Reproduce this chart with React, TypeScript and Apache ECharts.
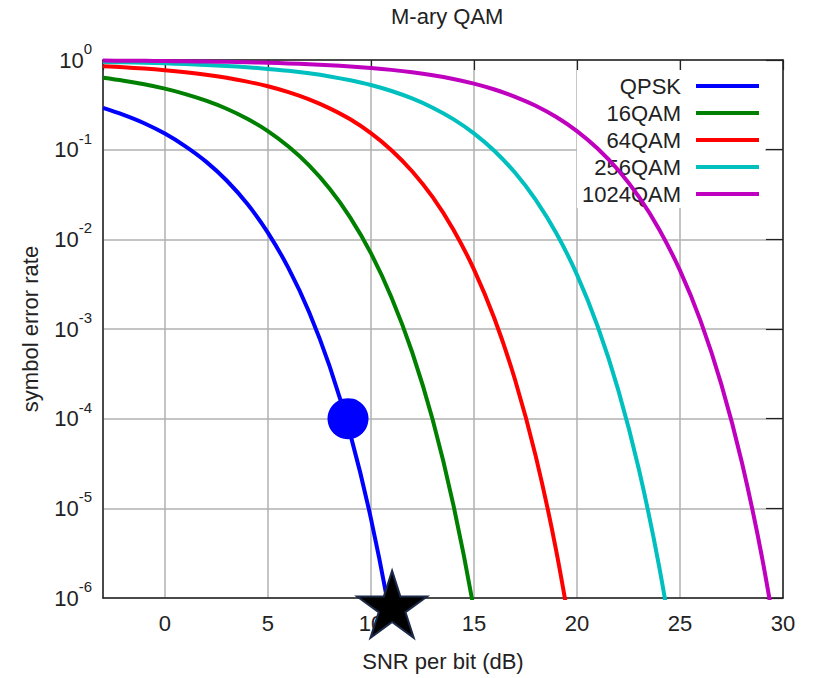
import { useEffect, useRef } from 'react';
import * as echarts from 'echarts';

const snrDb = [-3, -2, -1, 0, 1, 2, 3, 4, 5, 6, 7, 8, 9, 10, 11, 12, 13, 14, 15, 16, 17, 18, 19, 20, 21, 22, 23, 24, 25, 26, 27, 28, 29, 30];
const seriesNames = ['QPSK', '16QAM', '64QAM', '256QAM', '1024QAM'];
const seriesColors = ['#0000ff', '#008000', '#ff0000', '#00bfbf', '#bf00bf'];

const qpsk = [0.292, 0.244, 0.197, 0.151, 0.109, 0.0736, 0.0453, 0.0249, 0.0119, 0.00477, 0.00155, 3.82e-4, 6.72e-5, 7.74e-6, 5.2e-7, 1.8e-8];
const qam16 = [0.634, 0.588, 0.536, 0.479, 0.417, 0.352, 0.286, 0.221, 0.161, 0.1083, 0.0668, 0.0366, 0.01748, 0.00701, 0.00225, 5.54e-4, 9.7e-5, 1.1e-5, 7.4e-7, 2.5e-8];
const qam64 = [0.853, 0.829, 0.802, 0.769, 0.73, 0.685, 0.633, 0.574, 0.509, 0.438, 0.364, 0.289, 0.218, 0.153, 0.0987, 0.0575, 0.0295, 0.0129, 0.00463, 0.0013, 2.7e-4, 3.82e-5, 3.32e-6, 1.58e-7];
const qam256 = [0.95, 0.941, 0.93, 0.917, 0.901, 0.882, 0.858, 0.83, 0.796, 0.757, 0.71, 0.656, 0.594, 0.526, 0.451, 0.373, 0.294, 0.219, 0.152, 0.0967, 0.0552, 0.0276, 0.0117, 0.00404, 0.00108, 2.11e-4, 2.76e-5, 2.18e-6, 9.2e-8];
const qam1024 = [0.985, 0.982, 0.978, 0.973, 0.968, 0.961, 0.953, 0.943, 0.931, 0.916, 0.897, 0.875, 0.848, 0.815, 0.776, 0.73, 0.676, 0.614, 0.545, 0.469, 0.389, 0.309, 0.231, 0.161, 0.103, 0.0593, 0.0299, 0.0128, 0.0045, 0.00123, 2.44e-4, 3.28e-5, 2.7e-6, 1.19e-7];

const circlePoint = [8.89, 1e-4];
const starPoint = [11.03, 8.5e-7];

const titleText = 'M-ary QAM';
const xName = 'SNR per bit (dB)';
const yName = 'symbol error rate';

const FONT = '"Liberation Sans", Arial, Helvetica, sans-serif';
const TEXT = '#222';
const STAR = 'path://M50 0 L61.23 34.55 L97.55 34.55 L68.17 55.9 L79.39 90.45 L50 69.1 L20.61 90.45 L31.83 55.9 L2.45 34.55 L38.77 34.55 Z';

export default function App() {
  const ref = useRef<HTMLDivElement>(null);
  useEffect(() => {
    document.body.style.margin = '0';
    const chart = echarts.init(ref.current!, null, { renderer: 'svg' });
    const all = [qpsk, qam16, qam64, qam256, qam1024];
    const lineSeries = all.map((vals, i) => ({
      name: seriesNames[i],
      type: 'line',
      data: vals.map((v, j) => [snrDb[j], v]),
      smooth: 0.35,
      symbol: 'none',
      showSymbol: false,
      clip: true,
      xAxisIndex: 0,
      yAxisIndex: 0,
      lineStyle: { color: seriesColors[i], width: 4 },
      itemStyle: { color: seriesColors[i] },
      z: 2,
    }));
    const option: any = {
      animation: false,
      backgroundColor: '#fff',
      textStyle: { fontFamily: FONT },
      title: {
        text: titleText,
        left: 386,
        top: 0,
        padding: 5,
        textStyle: { fontFamily: FONT, fontSize: 22, fontWeight: 'normal', color: TEXT },
      },
      grid: { left: 103, right: 30, top: 60, bottom: 80, outerBoundsMode: 'none', containLabel: false },
      legend: {
        orient: 'vertical',
        align: 'right',
        right: 48,
        top: 70,
        padding: [5, 6, 3, 5],
        backgroundColor: '#fff',
        icon: 'rect',
        itemWidth: 63,
        itemHeight: 4,
        itemGap: 5,
        z: 1,
        data: seriesNames,
        textStyle: { fontFamily: FONT, fontSize: 22, color: TEXT, padding: [0, 10, 0, 0] },
      },
      xAxis: [
        {
          type: 'value',
          min: -3,
          max: 30,
          position: 'bottom',
          name: xName,
          nameLocation: 'middle',
          nameGap: 52,
          nameTextStyle: { fontFamily: FONT, fontSize: 22, color: TEXT },
          axisLine: { show: true, onZero: false, lineStyle: { color: '#222', width: 1.5 } },
          axisTick: { show: false },
          axisLabel: { showMinLabel: false, fontFamily: FONT, fontSize: 22, color: TEXT, margin: 14 },
          splitLine: { show: true, lineStyle: { color: '#b0b0b0', width: 1.5 } },
        },
        {
          type: 'value',
          min: -3,
          max: 30,
          position: 'top',
          axisLine: { show: true, onZero: false, lineStyle: { color: '#222', width: 1.5 } },
          axisTick: { show: true, inside: true, length: 10, lineStyle: { color: '#222', width: 1.2 } },
          axisLabel: { show: false },
          splitLine: { show: false },
        },
      ],
      yAxis: [
        {
          type: 'log',
          logBase: 10,
          min: 1e-6,
          max: 1,
          position: 'left',
          name: yName,
          nameLocation: 'middle',
          nameGap: 62,
          nameTextStyle: { fontFamily: FONT, fontSize: 22, color: TEXT },
          axisLine: { show: true, onZero: false, lineStyle: { color: '#222', width: 1.5 } },
          axisTick: { show: false },
          axisLabel: {
            margin: 11,
            formatter: (v: number) => `{b|10}{s|${Math.round(Math.log10(v))}}`,
            rich: {
              b: { fontFamily: FONT, fontSize: 22, lineHeight: 22, color: TEXT, padding: [8, 0, 8, 0] },
              s: { fontFamily: FONT, fontSize: 15, lineHeight: 15, color: TEXT, padding: [0, 0, 23, 0] },
            },
          },
          splitLine: { show: true, lineStyle: { color: '#b0b0b0', width: 1.5 } },
        },
        {
          type: 'log',
          logBase: 10,
          min: 1e-6,
          max: 1,
          position: 'right',
          axisLine: { show: true, onZero: false, lineStyle: { color: '#222', width: 1.5 } },
          axisTick: { show: true, inside: true, length: 17, lineStyle: { color: '#222', width: 1.2 } },
          axisLabel: { show: false },
          splitLine: { show: false },
        },
      ],
      series: [
        ...lineSeries,
        {
          name: 'marker-circle',
          type: 'scatter',
          data: [circlePoint],
          symbol: 'circle',
          symbolSize: 41,
          clip: false,
          itemStyle: { color: '#0000ff', opacity: 1 },
          z: 3,
        },
        {
          name: 'marker-star',
          type: 'scatter',
          data: [starPoint],
          symbol: STAR,
          symbolSize: [70, 67],
          clip: false,
          itemStyle: { color: '#000000', borderColor: '#1c2a48', borderWidth: 2, opacity: 1 },
          z: 4,
        },
      ],
    };
    chart.setOption(option);
    return () => chart.dispose();
  }, []);
  return <div ref={ref} style={{ position: 'absolute', left: 0, top: 0, width: 813, height: 678 }} />;
}
